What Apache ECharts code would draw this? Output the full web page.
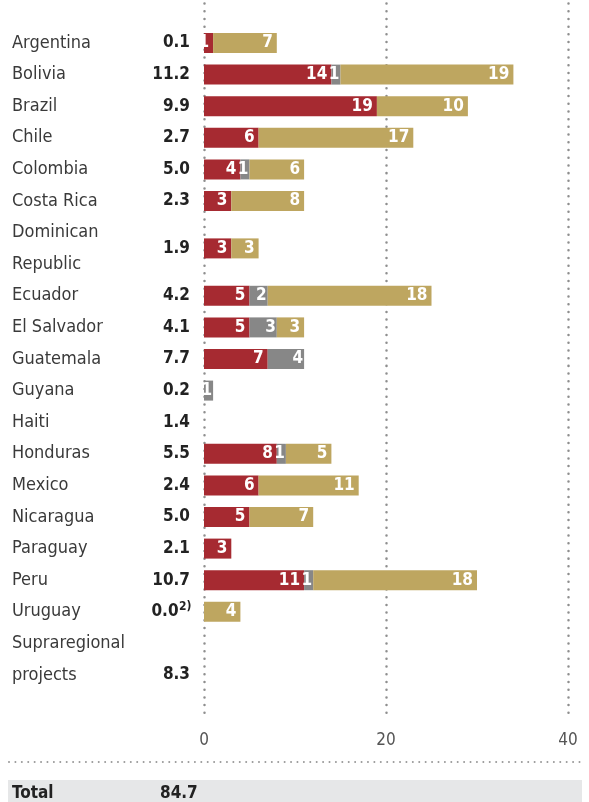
<!DOCTYPE html>
<html>
<head>
<meta charset="utf-8">
<script src="https://cdn.jsdelivr.net/npm/echarts@6/dist/echarts.min.js"></script>
<style>
html, body { margin: 0; padding: 0; background: #fff; }
#chart { width: 589px; height: 802px; }
</style>
</head>
<body>
<div id="chart"></div>
<script>
// data
var countries = ['Argentina', 'Bolivia', 'Brazil', 'Chile', 'Colombia', 'Costa Rica',
    'Dominican\nRepublic', 'Ecuador', 'El Salvador', 'Guatemala', 'Guyana', 'Haiti',
    'Honduras', 'Mexico', 'Nicaragua', 'Paraguay', 'Peru', 'Uruguay', 'Supraregional\nprojects'];
var volume = [0.1, 11.2, 9.9, 2.7, 5.0, 2.3, 1.9, 4.2, 4.1, 7.7, 0.2, 1.4, 5.5, 2.4, 5.0, 2.1, 10.7, 0.0, 8.3];
var volumeNote = ['', '', '', '', '', '', '', '', '', '', '', '', '', '', '', '', '', '2)', ''];
var redVals  = [1, 14, 19, 6, 4, 3, 3, 5, 5, 7, 0, 0, 8, 6, 5, 3, 11, 0, 0];
var grayVals = [0, 1, 0, 0, 1, 0, 0, 2, 3, 4, 1, 0, 1, 0, 0, 0, 1, 0, 0];
var goldVals = [7, 19, 10, 17, 6, 8, 3, 18, 3, 0, 0, 0, 5, 11, 7, 0, 18, 4, 0];
var xTicks = [0, 20, 40];

var FONT = '"Liberation Sans Narrow", "DejaVu Sans Condensed", sans-serif';

// build half-line slots for the category axis
var slots = [];
function blank() { return { name: '', value: '', note: '', bar: -1 }; }
slots.push(blank(), blank());
for (var i = 0; i < countries.length; i++) {
    var lines = countries[i].split('\n');
    var hasBar = redVals[i] + grayVals[i] + goldVals[i] > 0;
    var v = volume[i].toFixed(1);
    if (lines.length === 1) {
        slots.push({ name: lines[0], value: v, note: volumeNote[i], bar: i });
        slots.push(blank());
    } else {
        slots.push({ name: lines[0], value: '', note: '', bar: -1 });
        slots.push({ name: '', value: hasBar ? v : '', note: '', bar: i });
        slots.push({ name: lines[1], value: hasBar ? '' : v, note: volumeNote[i], bar: -1 });
        slots.push(blank());
    }
}
slots.push(blank());

function col(arr) {
    return slots.map(function (s) {
        return s.bar >= 0 && arr[s.bar] > 0 ? arr[s.bar] : '-';
    });
}

var total = volume.reduce(function (a, b) { return a + b; }, 0);

var barLabel = {
    show: true,
    position: 'insideRight',
    distance: 4,
    color: '#fff',
    fontFamily: FONT,
    fontWeight: 'bold',
    fontSize: 17
};

var myChart = echarts.init(document.getElementById('chart'));
var option = {
    backgroundColor: '#fff',
    animation: false,
    grid: { left: 204, width: 364, top: 3.5, height: 711 },
    xAxis: {
        type: 'value',
        min: xTicks[0],
        max: xTicks[xTicks.length - 1],
        interval: xTicks[1] - xTicks[0],
        axisLine: { show: false },
        axisTick: { show: false },
        axisLabel: { margin: 18, color: '#555', fontFamily: FONT, fontSize: 17 },
        splitLine: {
            show: true,
            lineStyle: { color: '#8e8e8e', width: 2.5, type: [0.01, 7.7], cap: 'round' }
        }
    },
    yAxis: {
        type: 'category',
        inverse: true,
        data: slots.map(function (s, k) { return 's' + k; }),
        axisLine: { show: false },
        axisTick: { show: false },
        axisLabel: {
            interval: 0,
            align: 'left',
            margin: 192,
            formatter: function (val, idx) {
                var s = slots[idx];
                var str = '{n|' + (s.name || ' ') + '}';
                if (s.note) {
                    str += '{vs|' + s.value + '}{s|' + s.note + '}';
                } else {
                    str += '{v|' + (s.value || ' ') + '}';
                }
                return str;
            },
            rich: {
                n: { width: 140, align: 'left', color: '#3a3a3a', fontFamily: FONT, fontSize: 18 },
                v: { width: 38, align: 'right', color: '#222', fontFamily: FONT, fontWeight: 'bold', fontSize: 17 },
                vs: { width: 26, align: 'right', color: '#222', fontFamily: FONT, fontWeight: 'bold', fontSize: 17 },
                s: { color: '#222', fontFamily: FONT, fontWeight: 'bold', fontSize: 12, padding: [0, 0, 9, 1] }
            }
        }
    },
    series: [{
        name: 'red',
        type: 'bar',
        stack: 'all',
        barWidth: 20,
        itemStyle: { color: '#a62a31' },
        label: barLabel,
        data: col(redVals)
    }, {
        name: 'gray',
        type: 'bar',
        stack: 'all',
        barWidth: 20,
        itemStyle: { color: '#878787' },
        label: Object.assign({}, barLabel, { distance: 1 }),
        data: col(grayVals)
    }, {
        name: 'gold',
        type: 'bar',
        stack: 'all',
        barWidth: 20,
        itemStyle: { color: '#bea660' },
        label: barLabel,
        data: col(goldVals)
    }],
    graphic: [{
        type: 'line',
        shape: { x1: 9, y1: 762, x2: 582, y2: 762 },
        style: { stroke: '#999', lineWidth: 2, lineDash: [0.01, 6.4], lineCap: 'round' }
    }, {
        type: 'rect',
        shape: { x: 8, y: 780, width: 574, height: 30 },
        style: { fill: '#e6e7e8' }
    }, {
        type: 'text',
        left: 12,
        top: 785,
        style: { text: 'Total', fill: '#222', font: 'bold 17px ' + FONT }
    }, {
        type: 'text',
        left: 160,
        top: 785,
        style: { text: total.toFixed(1), fill: '#222', font: 'bold 17px ' + FONT }
    }]
};
myChart.setOption(option, true);
</script>
</body>
</html>
